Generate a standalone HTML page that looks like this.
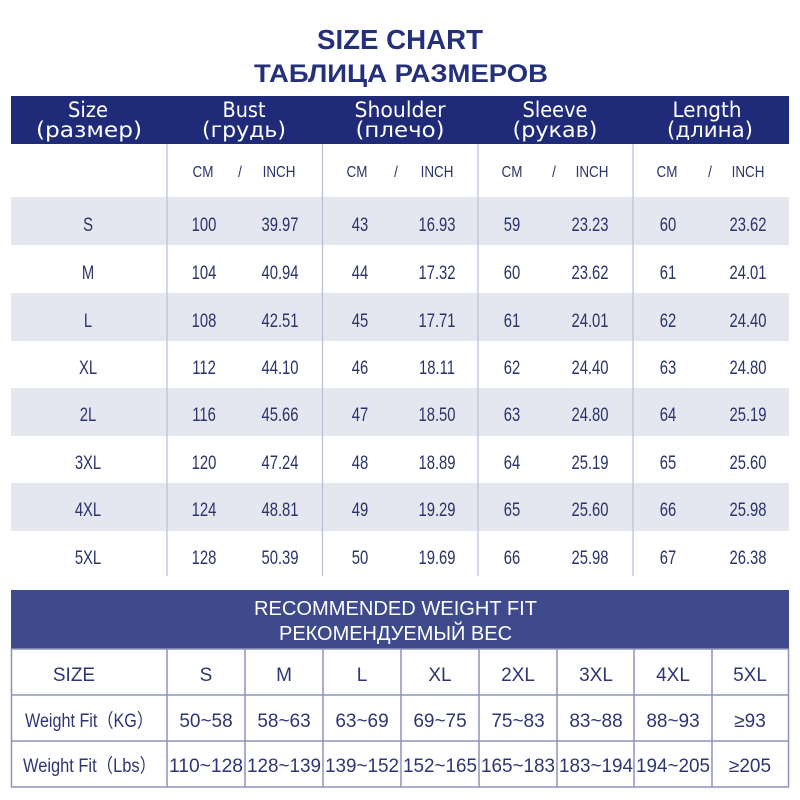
<!DOCTYPE html>
<html><head><meta charset="utf-8"><style>
html,body{margin:0;padding:0;background:#fff;}
svg{display:block;}
</style></head><body>
<svg width="800" height="800" viewBox="0 0 800 800" xmlns="http://www.w3.org/2000/svg">
<rect width="800" height="800" fill="#fff"/>
<!-- Titles -->
<text x="400" y="49" text-anchor="middle" font-family="Liberation Sans, DejaVu Sans, sans-serif" font-weight="bold" font-size="28" fill="#25307a" textLength="166" lengthAdjust="spacingAndGlyphs">SIZE CHART</text>
<text x="401" y="82" text-anchor="middle" font-family="Liberation Sans, DejaVu Sans, sans-serif" font-weight="bold" font-size="25" fill="#25307a" textLength="294" lengthAdjust="spacingAndGlyphs">ТАБЛИЦА РАЗМЕРОВ</text>

<!-- Header band -->
<rect x="11" y="96" width="778" height="48" fill="#1f2a78"/>
<g font-family="DejaVu Sans, Liberation Sans, sans-serif" font-size="21" fill="#fff" text-anchor="middle">
<text x="88" y="117" textLength="40" lengthAdjust="spacingAndGlyphs">Size</text>
<text x="89" y="137" textLength="106" lengthAdjust="spacingAndGlyphs">(размер)</text>
<text x="244" y="117" textLength="43" lengthAdjust="spacingAndGlyphs">Bust</text>
<text x="244" y="137" textLength="84" lengthAdjust="spacingAndGlyphs">(грудь)</text>
<text x="400" y="117" textLength="91" lengthAdjust="spacingAndGlyphs">Shoulder</text>
<text x="400" y="137" textLength="89" lengthAdjust="spacingAndGlyphs">(плечо)</text>
<text x="555" y="117" textLength="65" lengthAdjust="spacingAndGlyphs">Sleeve</text>
<text x="555" y="137" textLength="85" lengthAdjust="spacingAndGlyphs">(рукав)</text>
<text x="707" y="117" textLength="69" lengthAdjust="spacingAndGlyphs">Length</text>
<text x="710" y="137" textLength="86" lengthAdjust="spacingAndGlyphs">(длина)</text>
</g>

<!-- Shaded rows -->
<g fill="#e4e6f0">
<rect x="11" y="197" width="778" height="48"/>
<rect x="11" y="293" width="778" height="48"/>
<rect x="11" y="388" width="778" height="48"/>
<rect x="11" y="483" width="778" height="48"/>
</g>

<!-- vertical dividers -->
<g stroke="#b9bdd6" stroke-width="1.2">
<line x1="167" y1="144" x2="167" y2="576"/>
<line x1="322.5" y1="144" x2="322.5" y2="576"/>
<line x1="478" y1="144" x2="478" y2="576"/>
<line x1="633" y1="144" x2="633" y2="576"/>
</g>

<!-- CM / INCH row -->
<g font-family="Liberation Sans, sans-serif" font-size="16" fill="#2a3468" text-anchor="middle">
<text transform="translate(203,177) scale(0.84,1)">CM</text>
<text transform="translate(240,177) scale(0.84,1)">/</text>
<text transform="translate(279,177) scale(0.84,1)">INCH</text>
<text transform="translate(357,177) scale(0.84,1)">CM</text>
<text transform="translate(396,177) scale(0.84,1)">/</text>
<text transform="translate(437,177) scale(0.84,1)">INCH</text>
<text transform="translate(512,177) scale(0.84,1)">CM</text>
<text transform="translate(554,177) scale(0.84,1)">/</text>
<text transform="translate(592,177) scale(0.84,1)">INCH</text>
<text transform="translate(667,177) scale(0.84,1)">CM</text>
<text transform="translate(710,177) scale(0.84,1)">/</text>
<text transform="translate(748,177) scale(0.84,1)">INCH</text>
</g>

<!-- Data rows -->
<g font-family="Liberation Sans, sans-serif" font-size="19" fill="#2a3468" text-anchor="middle">
<!-- S -->
<text transform="translate(88,231) scale(0.78,1)">S</text>
<text transform="translate(204,231) scale(0.78,1)">100</text>
<text transform="translate(280,231) scale(0.78,1)">39.97</text>
<text transform="translate(360,231) scale(0.78,1)">43</text>
<text transform="translate(437,231) scale(0.78,1)">16.93</text>
<text transform="translate(512,231) scale(0.78,1)">59</text>
<text transform="translate(590,231) scale(0.78,1)">23.23</text>
<text transform="translate(668,231) scale(0.78,1)">60</text>
<text transform="translate(748,231) scale(0.78,1)">23.62</text>
<!-- M -->
<text transform="translate(88,279) scale(0.78,1)">M</text>
<text transform="translate(204,279) scale(0.78,1)">104</text>
<text transform="translate(280,279) scale(0.78,1)">40.94</text>
<text transform="translate(360,279) scale(0.78,1)">44</text>
<text transform="translate(437,279) scale(0.78,1)">17.32</text>
<text transform="translate(512,279) scale(0.78,1)">60</text>
<text transform="translate(590,279) scale(0.78,1)">23.62</text>
<text transform="translate(668,279) scale(0.78,1)">61</text>
<text transform="translate(748,279) scale(0.78,1)">24.01</text>
<!-- L -->
<text transform="translate(88,327) scale(0.78,1)">L</text>
<text transform="translate(204,327) scale(0.78,1)">108</text>
<text transform="translate(280,327) scale(0.78,1)">42.51</text>
<text transform="translate(360,327) scale(0.78,1)">45</text>
<text transform="translate(437,327) scale(0.78,1)">17.71</text>
<text transform="translate(512,327) scale(0.78,1)">61</text>
<text transform="translate(590,327) scale(0.78,1)">24.01</text>
<text transform="translate(668,327) scale(0.78,1)">62</text>
<text transform="translate(748,327) scale(0.78,1)">24.40</text>
<!-- XL -->
<text transform="translate(88,374) scale(0.78,1)">XL</text>
<text transform="translate(204,374) scale(0.78,1)">112</text>
<text transform="translate(280,374) scale(0.78,1)">44.10</text>
<text transform="translate(360,374) scale(0.78,1)">46</text>
<text transform="translate(437,374) scale(0.78,1)">18.11</text>
<text transform="translate(512,374) scale(0.78,1)">62</text>
<text transform="translate(590,374) scale(0.78,1)">24.40</text>
<text transform="translate(668,374) scale(0.78,1)">63</text>
<text transform="translate(748,374) scale(0.78,1)">24.80</text>
<!-- 2L -->
<text transform="translate(88,421) scale(0.78,1)">2L</text>
<text transform="translate(204,421) scale(0.78,1)">116</text>
<text transform="translate(280,421) scale(0.78,1)">45.66</text>
<text transform="translate(360,421) scale(0.78,1)">47</text>
<text transform="translate(437,421) scale(0.78,1)">18.50</text>
<text transform="translate(512,421) scale(0.78,1)">63</text>
<text transform="translate(590,421) scale(0.78,1)">24.80</text>
<text transform="translate(668,421) scale(0.78,1)">64</text>
<text transform="translate(748,421) scale(0.78,1)">25.19</text>
<!-- 3XL -->
<text transform="translate(88,469) scale(0.78,1)">3XL</text>
<text transform="translate(204,469) scale(0.78,1)">120</text>
<text transform="translate(280,469) scale(0.78,1)">47.24</text>
<text transform="translate(360,469) scale(0.78,1)">48</text>
<text transform="translate(437,469) scale(0.78,1)">18.89</text>
<text transform="translate(512,469) scale(0.78,1)">64</text>
<text transform="translate(590,469) scale(0.78,1)">25.19</text>
<text transform="translate(668,469) scale(0.78,1)">65</text>
<text transform="translate(748,469) scale(0.78,1)">25.60</text>
<!-- 4XL -->
<text transform="translate(88,516) scale(0.78,1)">4XL</text>
<text transform="translate(204,516) scale(0.78,1)">124</text>
<text transform="translate(280,516) scale(0.78,1)">48.81</text>
<text transform="translate(360,516) scale(0.78,1)">49</text>
<text transform="translate(437,516) scale(0.78,1)">19.29</text>
<text transform="translate(512,516) scale(0.78,1)">65</text>
<text transform="translate(590,516) scale(0.78,1)">25.60</text>
<text transform="translate(668,516) scale(0.78,1)">66</text>
<text transform="translate(748,516) scale(0.78,1)">25.98</text>
<!-- 5XL -->
<text transform="translate(88,564) scale(0.78,1)">5XL</text>
<text transform="translate(204,564) scale(0.78,1)">128</text>
<text transform="translate(280,564) scale(0.78,1)">50.39</text>
<text transform="translate(360,564) scale(0.78,1)">50</text>
<text transform="translate(437,564) scale(0.78,1)">19.69</text>
<text transform="translate(512,564) scale(0.78,1)">66</text>
<text transform="translate(590,564) scale(0.78,1)">25.98</text>
<text transform="translate(668,564) scale(0.78,1)">67</text>
<text transform="translate(748,564) scale(0.78,1)">26.38</text>
</g>

<!-- Bottom table -->
<rect x="11" y="590" width="778" height="59" fill="#3e4a8c"/>
<g font-family="Liberation Sans, sans-serif" font-size="20" fill="#fff" text-anchor="middle">
<text x="395.5" y="615" textLength="283" lengthAdjust="spacingAndGlyphs">RECOMMENDED WEIGHT FIT</text>
<text x="395.5" y="640" textLength="233" lengthAdjust="spacingAndGlyphs">РЕКОМЕНДУЕМЫЙ ВЕС</text>
</g>
<g stroke="#8e94b6" stroke-width="1.5" fill="none">
<rect x="11.5" y="649" width="777" height="138"/>
<line x1="11" y1="695" x2="789" y2="695"/>
<line x1="11" y1="741" x2="789" y2="741"/>
<line x1="167" y1="649" x2="167" y2="787"/>
<line x1="245" y1="649" x2="245" y2="787"/>
<line x1="323" y1="649" x2="323" y2="787"/>
<line x1="401" y1="649" x2="401" y2="787"/>
<line x1="479" y1="649" x2="479" y2="787"/>
<line x1="557" y1="649" x2="557" y2="787"/>
<line x1="634" y1="649" x2="634" y2="787"/>
<line x1="712" y1="649" x2="712" y2="787"/>
</g>
<g font-family="Liberation Sans, 'Noto Sans CJK SC', sans-serif" font-size="19" fill="#2d3673" text-anchor="middle">
<text x="74" y="681">SIZE</text>
<text x="206" y="681">S</text>
<text x="284" y="681">M</text>
<text x="362" y="681">L</text>
<text x="440" y="681">XL</text>
<text x="518" y="681">2XL</text>
<text x="596" y="681">3XL</text>
<text x="673" y="681">4XL</text>
<text x="750" y="681">5XL</text>

<text x="89" y="727" textLength="128" lengthAdjust="spacingAndGlyphs">Weight Fit（KG）</text>
<text x="206" y="727">50~58</text>
<text x="284" y="727">58~63</text>
<text x="362" y="727">63~69</text>
<text x="440" y="727">69~75</text>
<text x="518" y="727">75~83</text>
<text x="596" y="727">83~88</text>
<text x="673" y="727">88~93</text>
<text x="750" y="727">≥93</text>

<text x="89.5" y="772" textLength="133" lengthAdjust="spacingAndGlyphs">Weight Fit（Lbs）</text>
<text x="206" y="772" textLength="74" lengthAdjust="spacingAndGlyphs">110~128</text>
<text x="284" y="772" textLength="74" lengthAdjust="spacingAndGlyphs">128~139</text>
<text x="362" y="772" textLength="74" lengthAdjust="spacingAndGlyphs">139~152</text>
<text x="440" y="772" textLength="74" lengthAdjust="spacingAndGlyphs">152~165</text>
<text x="518" y="772" textLength="74" lengthAdjust="spacingAndGlyphs">165~183</text>
<text x="596" y="772" textLength="74" lengthAdjust="spacingAndGlyphs">183~194</text>
<text x="673" y="772" textLength="74" lengthAdjust="spacingAndGlyphs">194~205</text>
<text x="750" y="772">≥205</text>
</g>
</svg>
</body></html>
